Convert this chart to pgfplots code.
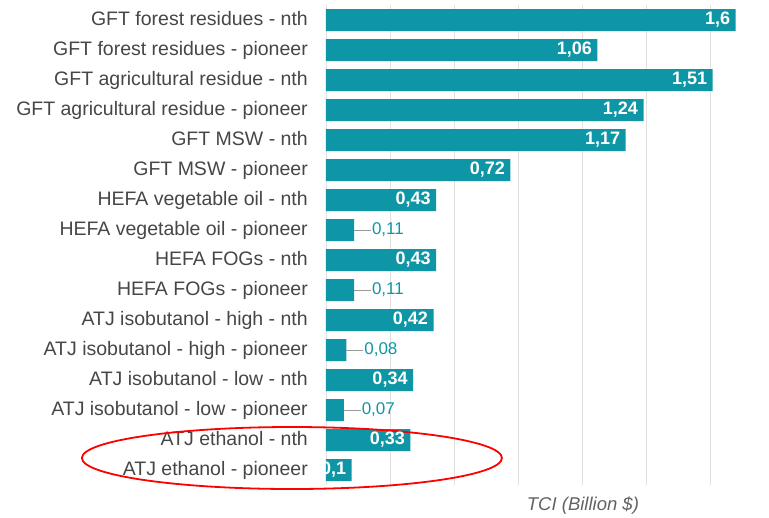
\documentclass[border=0pt]{standalone}
\usepackage{pgfplots}
\pgfplotsset{compat=1.18}
\usepackage{pgfplotstable}
\usepackage{fontspec}
\setmainfont{Liberation Sans}
\definecolor{tealc}{RGB}{14,150,166}
\definecolor{lbl}{RGB}{70,70,70}
\definecolor{gridc}{RGB}{225,225,225}
\pgfplotstableread{
i v
0 1.6
1 1.06
2 1.51
3 1.24
4 1.17
5 0.72
6 0.43
7 0.11
8 0.43
9 0.11
10 0.42
11 0.08
12 0.34
13 0.07
14 0.33
15 0.1
}\bars
\pgfplotstableread{
i v lab
0 1.6 1,6
1 1.06 1,06
2 1.51 1,51
3 1.24 1,24
4 1.17 1,17
5 0.72 0,72
6 0.43 0,43
8 0.43 0,43
10 0.42 0,42
12 0.34 0,34
14 0.33 0,33
15 0.1 0,1
}\inside
\pgfplotstableread{
i v lab
7 0.175 0,11
9 0.175 0,11
11 0.145 0,08
13 0.135 0,07
}\outside
\begin{document}
\begin{tikzpicture}
\begin{axis}[
  name=a,
  scale only axis,
  width=443pt, height=480pt,
  xmin=0, xmax=1.73,
  ymin=-0.5, ymax=15.5,
  y dir=reverse,
  clip=false,
  axis line style={draw=none},
  tick style={draw=none},
  xtick={0,0.25,...,1.75},
  xticklabels={},
  xmajorgrids,
  grid style={gridc, line width=0.8pt},
  ytick={0,...,15},
  yticklabels={GFT forest residues - nth, GFT forest residues - pioneer, GFT agricultural residue - nth, GFT agricultural residue - pioneer, GFT MSW - nth, GFT MSW - pioneer, HEFA vegetable oil - nth, HEFA vegetable oil - pioneer, HEFA FOGs - nth, HEFA FOGs - pioneer, ATJ isobutanol - high - nth, ATJ isobutanol - high - pioneer, ATJ isobutanol - low - nth, ATJ isobutanol - low - pioneer, ATJ ethanol - nth, ATJ ethanol - pioneer},
  yticklabel style={font=\fontsize{19.5}{22}\selectfont, text=lbl, inner sep=0pt, xshift=-18pt, text height=14pt, text depth=4pt},
  xlabel={TCI (Billion \$)},
  xlabel style={font=\fontsize{18.5}{22}\selectfont\itshape, text=lbl!85, at={(axis description cs:0.58,0)}, anchor=north, yshift=-8pt},
]
\addplot[xbar, bar width=22pt, fill=tealc, draw=none] table[x=v, y=i] {\bars};
\addplot[only marks, mark=none, nodes near coords, point meta=explicit symbolic,
  nodes near coords style={anchor=east, xshift=-2pt, text=white, text height=12.5pt, text depth=3pt, font=\fontsize{18}{20}\selectfont\bfseries}]
  table[x=v, y=i, meta=lab] {\inside};
\addplot[only marks, mark=none, nodes near coords, point meta=explicit symbolic,
  nodes near coords style={anchor=west, inner sep=1pt, text=tealc, text height=12pt, text depth=3pt, font=\fontsize{17}{20}\selectfont}]
  table[x=v, y=i, meta=lab] {\outside};
\addplot[gray!80, line width=0.8pt] coordinates {(0.11,7) (0.175,7)};
\addplot[gray!80, line width=0.8pt] coordinates {(0.11,9) (0.175,9)};
\addplot[gray!80, line width=0.8pt] coordinates {(0.08,11) (0.145,11)};
\addplot[gray!80, line width=0.8pt] coordinates {(0.07,13) (0.135,13)};
\draw[red, line width=1.8pt] (axis cs:-0.133,14.6) ellipse [x radius=210pt, y radius=31pt];
\end{axis}
\path (a.south west) ++(-326pt,-32pt) coordinate (bl);
\path (a.north east) ++(0pt,5pt) coordinate (tr);
\useasboundingbox (bl) rectangle (tr);
\end{tikzpicture}
\end{document}
